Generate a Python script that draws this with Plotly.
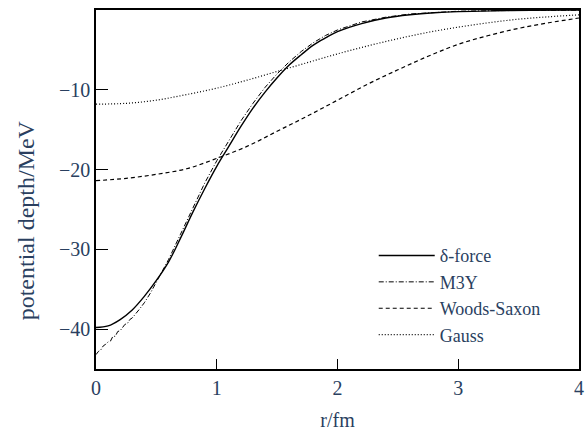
import plotly.graph_objects as go

r_delta = [0, 0.1, 0.2, 0.3, 0.4, 0.5, 0.6, 0.7, 0.8, 0.9, 1.0, 1.1, 1.2, 1.3, 1.4, 1.5, 1.6, 1.7, 1.8, 1.9,
           2.0, 2.2, 2.4, 2.6, 2.8, 3.0, 3.3, 3.6, 4.0]
v_delta = [-39.8, -39.6, -38.8, -37.6, -35.9, -33.9, -31.6, -28.6, -25.4, -22.4, -19.6, -17.1, -14.6, -12.3,
           -10.3, -8.5, -6.9, -5.6, -4.4, -3.5, -2.7, -1.7, -1.0, -0.6, -0.35, -0.2, -0.1, -0.05, -0.02]

r_m3y = [0, 0.02, 0.04, 0.06, 0.08, 0.10, 0.12, 0.14, 0.16, 0.18, 0.20, 0.22, 0.24, 0.26, 0.28, 0.30, 0.33,
         0.36, 0.40, 0.45, 0.50, 0.6, 0.7, 0.8, 0.9, 1.0, 1.1, 1.2, 1.3, 1.4, 1.5, 1.6, 1.7, 1.8, 1.9, 2.0,
         2.2, 2.4, 2.6, 2.8, 3.0, 3.3, 3.6, 4.0]
v_m3y = [-43.2, -42.8, -42.6, -42.1, -41.9, -41.6, -41.5, -40.9, -40.9, -40.3, -40.2, -39.8, -39.4, -39.3,
         -38.8, -38.6, -38.1, -37.5, -36.7, -35.5, -34.1, -31.3, -28.1, -24.8, -21.7, -18.9, -16.4, -13.9,
         -11.7, -9.7, -8.0, -6.5, -5.2, -4.1, -3.2, -2.5, -1.5, -0.9, -0.5, -0.3, -0.15, -0.08, -0.04, -0.02]

r_ws = [0, 0.25, 0.5, 0.75, 1.0, 1.25, 1.5, 1.75, 2.0, 2.25, 2.5, 2.75, 3.0, 3.25, 3.5, 3.75, 4.0]
v_ws = [-21.4, -21.1, -20.6, -19.9, -18.6, -17.1, -15.2, -13.3, -11.3, -9.3, -7.5, -5.8, -4.3, -3.2,
        -2.3, -1.6, -1.0]

r_gauss = [0, 0.25, 0.5, 0.75, 1.0, 1.25, 1.5, 1.75, 2.0, 2.25, 2.5, 2.75, 3.0, 3.25, 3.5, 3.75, 4.0]
v_gauss = [-11.8, -11.7, -11.3, -10.6, -9.8, -8.8, -7.7, -6.6, -5.5, -4.5, -3.6, -2.8, -2.15, -1.6,
           -1.15, -0.85, -0.6]

x_ticks = [0, 1, 2, 3, 4]
y_ticks = [0, -10, -20, -30, -40]

FAM = "Times New Roman"

fig = go.Figure()
fig.add_trace(go.Scatter(x=r_delta, y=v_delta, mode="lines", name="δ-force",
                         line=dict(color="black", width=1.4, shape="spline")))
fig.add_trace(go.Scatter(x=r_m3y, y=v_m3y, mode="lines", name="M3Y",
                         line=dict(color="black", width=1.0, dash="5px,2px,1px,2px")))
fig.add_trace(go.Scatter(x=r_ws, y=v_ws, mode="lines", name="Woods-Saxon",
                         line=dict(color="black", width=1.2, dash="4px,3px", shape="spline")))
fig.add_trace(go.Scatter(x=r_gauss, y=v_gauss, mode="lines", name="Gauss",
                         line=dict(color="black", width=1.2, dash="1px,2px", shape="spline")))

fig.update_layout(
    width=588, height=432,
    margin=dict(l=96, r=4, t=10, b=62),
    plot_bgcolor="white", paper_bgcolor="white",
    font=dict(family=FAM, size=20),
    showlegend=True,
    legend=dict(x=0.575, y=0.367, xanchor="left", yanchor="top", itemwidth=56,
                font=dict(family=FAM, size=18)),
)
fig.add_annotation(text="potential depth/MeV", textangle=-90, showarrow=False,
                   xref="paper", yref="paper", x=-0.145, y=0.414,
                   xanchor="center", yanchor="middle", font=dict(family=FAM, size=24))
fig.update_xaxes(range=[0, 4], tickvals=x_ticks, ticks="inside", ticklen=10, tickcolor="black",
                 showline=True, linecolor="black", linewidth=1.5, mirror=True, showgrid=False,
                 zeroline=False, tickfont=dict(family=FAM, size=20),
                 title=dict(text="r/fm", font=dict(family=FAM, size=20)))
fig.update_yaxes(range=[-45, 0], tickvals=y_ticks, ticks="inside", ticklen=12, tickcolor="black",
                 showline=True, linecolor="black", linewidth=1.5, mirror=True, showgrid=False,
                 zeroline=False, tickfont=dict(family=FAM, size=20))

fig.write_html("out.html")
